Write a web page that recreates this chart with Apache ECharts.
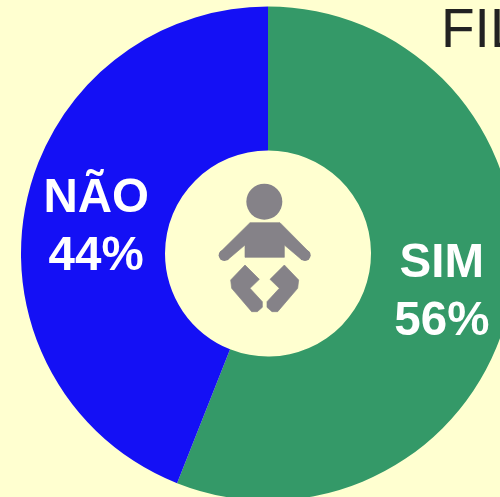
<!DOCTYPE html>
<html><head><meta charset="utf-8">
<style>html,body{margin:0;padding:0;background:#ffffd0}#c{width:500px;height:497px}</style>
<script src="https://cdn.jsdelivr.net/npm/echarts@6/dist/echarts.min.js"></script>
</head><body><div id="c"></div>
<script>
const categories = ["SIM", "NÃO"];
const values = [56, 44];
const sliceColors = ["#349968", "#1410f5"];
const labelOffsets = [[-1, 6], [3, 8]];
const titleText = "FIL";
const chart = echarts.init(document.getElementById('c'), null, {renderer: 'canvas'});
const iconColor = '#858288';
const iconStyle = {fill: iconColor, stroke: iconColor, lineWidth: 2, lineJoin: 'round'};
chart.setOption({
  animation: false,
  backgroundColor: '#ffffd0',
  title: {text: titleText, left: 436, top: -1, textStyle: {fontFamily: 'Liberation Sans', fontSize: 55, fontWeight: 'normal', color: '#222222'}},
  series: [{
    type: 'pie',
    center: [268, 253.5],
    radius: [103, 247],
    startAngle: 90,
    clockwise: true,
    silent: true,
    data: categories.map((c, i) => ({
      name: c, value: values[i],
      itemStyle: {color: sliceColors[i]},
      label: {offset: labelOffsets[i]}
    })),
    label: {
      position: 'inside',
      formatter: p => p.name + '\n' + p.value + '%',
      fontFamily: 'Liberation Sans',
      fontWeight: 'bold',
      fontSize: 47.5,
      lineHeight: 58,
      color: '#ffffff'
    },
    labelLine: {show: false}
  }],
  graphic: [{
    type: 'group', x: 200, y: 170, scaleX: 1/3, scaleY: 1/3, silent: true,
    children: [
      {type: 'circle', shape: {cx: 193, cy: 95, r: 54}, style: {fill: iconColor}},
      {type: 'polygon', shape: {points: [[150,158],[240,158],[328,247],[306,270],[253,225],[253,262],[135,262],[135,225],[82,270],[60,247]]}, style: iconStyle},
      {type: 'circle', shape: {cx: 73, cy: 256, r: 17}, style: {fill: iconColor}},
      {type: 'circle', shape: {cx: 315, cy: 256, r: 17}, style: {fill: iconColor}},
      {type: 'polygon', shape: {points: [[135,285],[178,328],[150,355],[187,395],[187,412],[172,425],[155,425],[95,355],[92,330]]}, style: iconStyle},
      {type: 'polygon', shape: {points: [[253,285],[210,328],[238,355],[201,395],[201,412],[216,425],[233,425],[293,355],[296,330]]}, style: iconStyle}
    ]
  }]
});
</script></body></html>
